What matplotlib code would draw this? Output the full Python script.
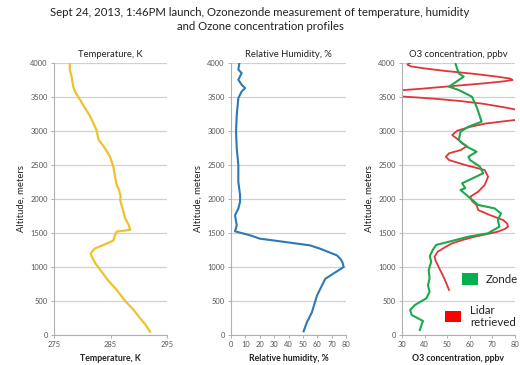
import matplotlib
matplotlib.use("Agg")
import matplotlib.pyplot as plt
from matplotlib.patches import Rectangle

plt.rcParams['font.family'] = ['Lato', 'DejaVu Sans']

# ---- data ----
temp_alt = [49, 150, 250, 368, 500, 662, 800, 957, 1055, 1153, 1202, 1251, 1276, 1325, 1389,
            1472, 1521, 1546, 1620, 1717, 1840, 1987, 2037, 2135, 2208, 2331, 2478, 2626,
            2773, 2871, 3018, 3215, 3460, 3583, 3656, 3804, 3902, 4000]
temp_K = [292.0, 291.2, 290.2, 289.1, 287.6, 286.1, 284.6, 283.2, 282.3, 281.7, 281.5, 282.0,
          282.3, 283.8, 285.5, 285.8, 286.1, 288.5, 288.2, 287.6, 287.2, 286.7, 286.8, 286.5,
          286.1, 285.8, 285.5, 284.9, 283.8, 282.9, 282.5, 281.4, 279.6, 278.7, 278.4, 278.1,
          277.8, 277.8]

rh_alt = [54, 187, 335, 580, 827, 1000, 1073, 1122, 1171, 1269, 1318, 1378, 1417, 1466, 1525,
          1614, 1761, 1860, 1958, 2057, 2253, 2499, 2745, 2991, 3237, 3483, 3581, 3631, 3680,
          3754, 3852, 3902, 4000]
rh_pct = [50.5, 52.8, 56.3, 59.8, 65.6, 78.4, 77.5, 76.0, 73.7, 62.0, 55.0, 34.0, 20.0, 13.3,
          2.8, 4.0, 2.8, 5.1, 6.3, 6.3, 5.1, 5.1, 4.0, 3.5, 4.0, 5.1, 7.4, 9.8, 7.4, 5.1, 7.4,
          5.1, 5.8]

zonde_alt = [74, 147, 206, 294, 368, 441, 540, 637, 730, 834, 950, 1078, 1160, 1250, 1324,
             1372, 1446, 1495, 1593, 1691, 1789, 1863, 1912, 2034, 2132, 2160, 2231, 2378,
             2475, 2573, 2622, 2696, 2769, 2867, 2990, 3063, 3137, 3210, 3358, 3505, 3603,
             3652, 3701, 3799, 3848, 3985]
zonde_o3 = [37.9, 38.6, 39.3, 34.3, 33.6, 35.7, 40.8, 42.2, 41.5, 42.2, 41.8, 42.9, 42.3, 43.6,
            45.1, 50.8, 59.4, 68.0, 73.1, 72.4, 73.8, 70.9, 63.7, 59.4, 55.9, 58.0, 56.6, 65.9,
            64.5, 60.1, 59.4, 63.0, 58.7, 55.1, 55.9, 59.4, 65.2, 64.5, 63.0, 60.9, 55.1, 50.8,
            53.0, 57.3, 55.1, 53.7]

lidar_alt = [662, 770, 882, 960, 1029, 1090, 1152, 1225, 1290, 1348, 1400, 1446, 1519, 1560,
             1593, 1640, 1691, 1765, 1838, 1912, 1970, 2034, 2107, 2206, 2328, 2426, 2500,
             2573, 2622, 2672, 2720, 2779, 2820, 2867, 2941, 3004, 3060, 3110, 3162, 3200,
             3250, 3300, 3319, 3350, 3400, 3440, 3470, 3490, 3505, 3530, 3570, 3600, 3620,
             3660, 3700, 3730, 3750, 3770, 3800, 3840, 3880, 3920, 3950, 3975, 3990, 4000]
lidar_o3 = [50.8, 49.5, 48.0, 46.8, 45.8, 44.9, 44.4, 45.8, 49.0, 52.2, 57.0, 62.3, 72.4, 75.5,
            76.9, 76.5, 74.7, 68.8, 63.7, 63.0, 61.0, 60.2, 63.7, 66.6, 68.1, 66.6, 58.0,
            50.8, 49.4, 50.8, 56.0, 58.7, 56.5, 55.1, 52.2, 54.4, 60.0, 67.0, 80.0, 86.0,
            88.0, 84.0, 79.8, 75.0, 66.0, 56.0, 46.0, 38.0, 31.0, 26.0, 25.0, 30.0, 38.0,
            52.0, 66.0, 75.0, 78.9, 78.0, 72.0, 62.0, 50.0, 40.0, 34.0, 32.4, 32.8, 33.6]

yticks = [0, 500, 1000, 1500, 2000, 2500, 3000, 3500, 4000]

W, H = 520, 365
fig = plt.figure(figsize=(W / 100, H / 100), dpi=100)

fig.text(0.5, 1 - 12 / H, "Sept 24, 2013, 1:46PM launch, Ozonezonde measurement of temperature, humidity",
         ha='center', va='center', fontsize=8.2, color='#222222')
fig.text(0.5, 1 - 27 / H, "and Ozone concentration profiles",
         ha='center', va='center', fontsize=8.2, color='#222222')

bottom = 1 - 335 / H
top = 1 - 63 / H
panels = [
    (54, 167, "Temperature, K", "Temperature, K", (275, 295), [275, 285, 295]),
    (231, 346, "Relative Humidity, %", "Relative humidity, %", (0, 80), list(range(0, 81, 10))),
    (402, 515, "O3 concentration, ppbv", "O3 concentration, ppbv", (30, 80), list(range(30, 81, 10))),
]
axes = []
for x0, x1, title, xlabel, xlim, xt in panels:
    ax = fig.add_axes([x0 / W, bottom, (x1 - x0) / W, top - bottom])
    ax.set_xlim(*xlim)
    ax.set_ylim(0, 4000)
    ax.set_yticks(yticks)
    ax.set_xticks(xt)
    for s in ['top', 'right']:
        ax.spines[s].set_visible(False)
    for s in ['left', 'bottom']:
        ax.spines[s].set_color('#b0b0b0')
        ax.spines[s].set_linewidth(0.8)
    ax.grid(axis='y', color='#d0d0d0', linewidth=0.9)
    ax.set_axisbelow(True)
    ax.tick_params(axis='both', labelsize=5.4, colors='#b0b0b0', labelcolor='#555555',
                   length=2.5, width=0.7, pad=2)
    ax.set_title(title, fontsize=6.8, color='#222222', pad=4)
    ax.set_xlabel(xlabel, fontsize=6.3, fontweight='bold', color='#222222', labelpad=4)
    ax.set_ylabel("Altitude, meters", fontsize=6.8, color='#222222', labelpad=3)
    axes.append(ax)

axes[0].plot(temp_K, temp_alt, color='#EEC22A', lw=1.6, solid_joinstyle='round')
axes[1].plot(rh_pct, rh_alt, color='#2E78B4', lw=1.5, solid_joinstyle='round')
axes[2].plot(lidar_o3, lidar_alt, color='#E0363A', lw=1.3, solid_joinstyle='round')
axes[2].plot(zonde_o3, zonde_alt, color='#1DA84C', lw=1.5, solid_joinstyle='round')

# legend (manual, figure coordinates)
def fx(px):
    return px / W

def fy(py):
    return 1 - py / H

fig.patches.append(Rectangle((fx(462), fy(285)), 16 / W, 12 / H, facecolor='#00B050',
                             edgecolor='none', transform=fig.transFigure, figure=fig))
fig.text(fx(486), fy(279.5), "Zonde", ha='left', va='center', fontsize=8.3, color='#222222')
fig.patches.append(Rectangle((fx(445), fy(321.5)), 16 / W, 11 / H, facecolor='#FF0000',
                             edgecolor='none', transform=fig.transFigure, figure=fig))
fig.text(fx(470), fy(316.5), "Lidar\nretrieved", ha='left', va='center', fontsize=8.3,
         color='#222222', linespacing=1.15)

fig.savefig("out.png", dpi=100, facecolor='white')
